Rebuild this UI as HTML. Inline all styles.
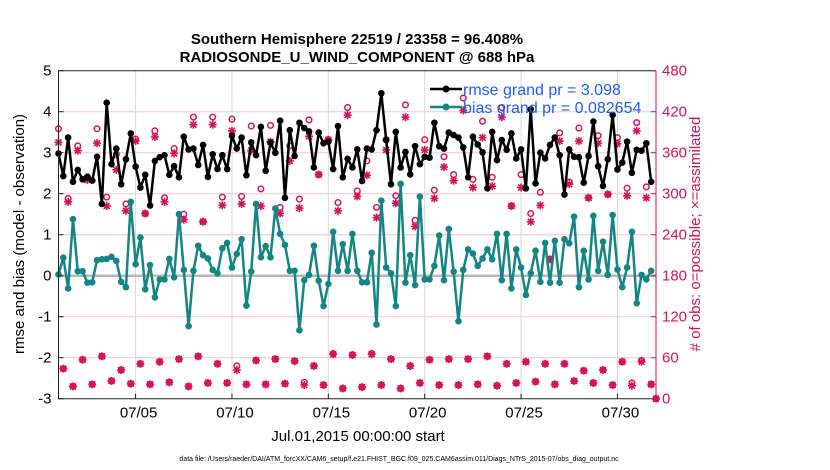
<!DOCTYPE html>
<html><head><meta charset="utf-8"><style>
html,body{margin:0;padding:0;background:#fff;}
svg{display:block;font-family:"Liberation Sans",sans-serif;}
</style></head><body>
<svg id="chart" width="830" height="470" viewBox="0 0 830 470" xmlns="http://www.w3.org/2000/svg">
<rect width="830" height="470" fill="#fff"/>
<text x="357" y="44" text-anchor="middle" font-size="15" font-weight="bold">Southern Hemisphere 22519 / 23358 = 96.408%</text>
<text x="357" y="62" text-anchor="middle" font-size="15" font-weight="bold">RADIOSONDE_U_WIND_COMPONENT @ 688 hPa</text>
<g id="grid"></g>
<g id="marks"></g>
<g id="axes"></g>
<text transform="translate(24,234) rotate(-90)" text-anchor="middle" font-size="15">rmse and bias (model - observation)</text>
<text transform="translate(700,234) rotate(-90)" text-anchor="middle" font-size="15" fill="#d6125a">#  of obs: o=possible; ×=assimilated</text>
<text x="358" y="441" text-anchor="middle" font-size="15">Jul.01,2015 00:00:00 start</text>
<text x="399" y="461" text-anchor="middle" font-size="7">data file: /Users/raeder/DAI/ATM_forcXX/CAM6_setup/f.e21.FHIST_BGC.f09_025.CAM6assim.011/Diags_NTrS_2015-07/obs_diag_output.nc</text>
<g>
<line x1="430" y1="89" x2="462" y2="89" stroke="#000" stroke-width="2.5"/>
<circle cx="446" cy="89" r="3.5" fill="#000"/>
<text x="463" y="95" font-size="16" fill="#1a5cff">rmse grand pr = 3.098</text>
<line x1="430" y1="107" x2="462" y2="107" stroke="#138585" stroke-width="2.5"/>
<circle cx="446" cy="107" r="3.5" fill="#138585"/>
<text x="463" y="113" font-size="16" fill="#1a5cff">bias grand pr = 0.082654</text>
</g>
</svg>
<script>
const rmse=[2.98,2.43,3.37,2.29,2.58,2.35,2.40,2.32,2.90,1.75,4.22,2.72,3.10,2.23,2.84,3.47,2.66,2.15,2.46,1.71,2.80,2.89,2.94,2.46,2.67,2.40,3.39,3.08,3.10,2.70,3.19,2.41,
2.96,2.60,2.94,2.60,3.41,3.10,3.37,2.45,3.25,2.94,3.63,2.56,3.25,3.00,3.78,1.90,3.55,2.92,3.73,3.60,3.52,2.64,3.49,3.23,3.27,2.60,3.65,2.40,2.85,2.64,3.08,
2.31,3.10,3.08,3.55,4.45,3.31,2.23,3.51,2.64,3.02,2.47,3.16,2.72,2.90,2.88,3.73,3.16,3.10,3.49,3.43,3.37,3.13,2.40,3.39,3.20,3.01,2.13,3.51,2.82,3.31,3.07,
3.47,2.86,3.08,2.13,4.06,2.25,3.00,2.86,3.19,3.37,2.94,1.98,3.08,2.90,2.89,2.27,2.92,3.76,2.67,2.19,2.84,3.92,2.59,2.76,3.27,2.51,3.07,3.05,3.23,2.29];
const bias=[0.03,0.44,-0.31,1.38,0.11,0.11,-0.17,-0.16,0.38,0.40,0.41,0.46,0.36,-0.15,-0.28,1.80,0.28,0.93,-0.33,0.26,-0.53,-0.09,-0.09,0.41,-0.04,1.50,0.14,-1.23,0.12,0.73,0.50,0.42,
0.14,0.06,0.67,0.80,0.20,0.53,0.89,-0.73,0.10,1.75,0.45,0.72,0.45,1.64,1.02,0.75,0.12,0.12,-1.33,-0.11,0.02,0.73,-0.12,-0.74,-0.20,1.07,0.12,0.77,0.12,1.02,0.12,
-0.16,-0.16,0.56,-1.19,1.83,0.20,0.06,-0.74,2.24,-0.17,0.50,-0.23,1.93,-0.09,-0.09,0.24,0.98,-0.11,1.14,0.10,-1.11,0.14,0.64,0.54,0.24,0.42,0.64,0.40,1.02,-0.11,1.02,
-0.31,0.64,0.20,-0.47,0.06,0.61,-0.15,0.80,-0.17,0.85,-0.17,0.89,0.79,1.44,-0.28,0.61,-0.09,1.46,0.12,0.83,0.02,1.48,0.15,-0.28,0.20,1.07,-0.67,0.02,-0.09,0.12];
const possible=[395,44,293,18,370,57,325,21,395,62,295,26,358,42,285,22,380,51,271,21,392,54,294,24,366,58,270,18,412,62,259,23,
412,51,295,23,409,48,296,21,399,56,307,21,400,58,280,22,370,55,292,24,408,48,328,20,379,66,287,15,426,64,304,
17,348,66,280,20,379,58,297,15,430,48,261,23,379,57,305,20,354,58,328,20,440,58,321,21,406,62,324,19,426,51,
282,23,328,54,271,25,302,51,204,21,389,51,317,26,396,41,294,23,385,42,299,20,382,54,308,23,404,56,310,21,0];
const assimilated=[375,44,288,18,363,57,320,21,374,62,282,26,335,42,275,22,377,51,271,21,383,54,288,24,359,58,262,18,401,62,259,23,
401,51,283,23,392,42,285,21,363,56,282,21,376,58,271,22,348,55,279,20,384,48,328,20,379,65,275,15,415,64,296,
17,327,65,265,20,364,58,286,15,412,48,252,23,364,57,293,20,339,58,319,20,422,58,309,21,382,62,311,19,412,51,
282,23,309,54,259,25,283,51,204,21,377,51,314,26,377,41,294,23,374,42,299,20,373,54,297,19,392,54,294,21,0];
const yTicks=[5,4,3,2,1,0,-1,-2,-3];
const rTicks=[0,60,120,180,240,300,360,420,480];
const xTickLabels=["07/05","07/10","07/15","07/20","07/25","07/30"];
const xTickDays=[4,9,14,19,24,29];

const NS="http://www.w3.org/2000/svg";
const L=58.5,R=656,T=70.7,B=398.7,DAYS=31;
const xs=d=>L+(R-L)*d/DAYS;
const yl=v=>B-(B-T)*(v+3)/8;
const yr=c=>B-(B-T)*c/480;
const CR="#d6125a",TE="#138585";
function mk(tag,attrs,parent){const e=document.createElementNS(NS,tag);for(const k in attrs)e.setAttribute(k,attrs[k]);parent.appendChild(e);return e;}
const grid=document.getElementById('grid'),marks=document.getElementById('marks'),axes=document.getElementById('axes');
yTicks.forEach(v=>{if(v!==0&&v!==5&&v!==-3){const g=mk('line',{x1:L,x2:R,y1:yl(v),y2:yl(v),stroke:'#f2c6d6','stroke-width':1},grid);

}});
xTickDays.forEach(d=>{const g=mk('line',{x1:xs(d),x2:xs(d),y1:T,y2:B,stroke:'#d8d8d8','stroke-width':1},grid);

});
const zl=mk('line',{x1:L,x2:R,y1:yl(0),y2:yl(0),stroke:'#b8b8b8','stroke-width':2.5},grid);


const tx=i=>xs(i*0.25);
// counts
function star(cx,cy){const g=mk('g',{stroke:CR,'stroke-width':1.6},marks);


mk('line',{x1:cx-4,x2:cx+4,y1:cy,y2:cy},g);mk('line',{x1:cx,x2:cx,y1:cy-4,y2:cy+4},g);
mk('line',{x1:cx-3,x2:cx+3,y1:cy-3,y2:cy+3},g);mk('line',{x1:cx-3,x2:cx+3,y1:cy+3,y2:cy-3},g);}
possible.forEach((c,i)=>{const o=mk('circle',{cx:tx(i),cy:yr(c),r:2.8,fill:'none',stroke:CR,'stroke-width':1.5},marks);

});
assimilated.forEach((c,i)=>star(tx(i),yr(c)));
function series(vals,col,name){const p=mk('polyline',{points:vals.map((v,i)=>tx(i)+','+yl(v)).join(' '),fill:'none',stroke:col,'stroke-width':2.5,'stroke-linejoin':'round'},marks);


vals.forEach((v,i)=>{const c=mk('circle',{cx:tx(i),cy:yl(v),r:3.3,fill:col},marks);

});}
series(bias,TE,'bias');
series(rmse,'#000','rmse');
// axes
const box=mk('path',{d:`M${L},${T}H${R}M${L},${T}V${B}H${R}`,fill:'none',stroke:'#222','stroke-width':1},axes);


const ra=mk('line',{x1:R,x2:R,y1:T,y2:B,stroke:CR,'stroke-width':1},axes);


yTicks.forEach(v=>{mk('line',{x1:L,x2:L+5,y1:yl(v),y2:yl(v),stroke:'#222'},axes);
const t=mk('text',{x:L-7,y:yl(v)+5,'text-anchor':'end','font-size':15},axes);t.textContent=v;

});
rTicks.forEach(c=>{mk('line',{x1:R-5,x2:R,y1:yr(c),y2:yr(c),stroke:CR},axes);
const t=mk('text',{x:R+6,y:yr(c)+5,'font-size':15,fill:CR},axes);t.textContent=c;

});
xTickDays.forEach((d,k)=>{mk('line',{x1:xs(d),x2:xs(d),y1:B,y2:B-5,stroke:'#222'},axes);
const t=mk('text',{x:xs(d)+3,y:B+19,'text-anchor':'middle','font-size':15},axes);t.textContent=xTickLabels[k];

});
</script>
</body></html>
